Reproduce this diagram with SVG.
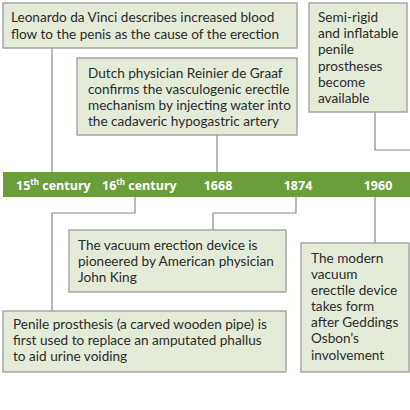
<svg xmlns="http://www.w3.org/2000/svg" width="410" height="410" viewBox="0 0 410 410">
<style>
.box{fill:#e4ecd9;stroke:#9a9a9a;stroke-width:1.3}
.t{font-family:Lato,"Open Sans",sans-serif;font-size:13.6px;fill:#2b2b2b}
.yr{font-family:"Open Sans","DejaVu Sans",sans-serif;font-size:12.5px;font-weight:bold;fill:#ffffff}
.sup{font-size:8px}
.c{fill:none;stroke:#8a8a8a;stroke-width:1.2}
</style>
<rect width="410" height="410" fill="#ffffff"/>
<g id="connectors">
<path class="c" d="M52,48V172"/>
<path class="c" d="M217,135V172"/>
<path class="c" d="M375,112V150H410"/>
<path class="c" d="M135,197V213H52V311"/>
<path class="c" d="M296,197V213H213V230"/>
<path class="c" d="M375,197V243"/>
</g>
<g id="timeline">
<rect x="3" y="172" width="407" height="25" fill="#6a9e3b"/>
<text class="yr" x="16" y="190">15<tspan class="sup" dy="-5">th</tspan><tspan dy="5"> century</tspan></text>
<text class="yr" x="102" y="190">16<tspan class="sup" dy="-5">th</tspan><tspan dy="5"> century</tspan></text>
<text class="yr" x="218" y="190" text-anchor="middle">1668</text>
<text class="yr" x="298" y="190" text-anchor="middle">1874</text>
<text class="yr" x="378" y="190" text-anchor="middle">1960</text>
</g>
<g id="leonardo">
<rect class="box" x="3" y="3" width="294" height="45"/>
<text class="t" x="11" y="22">Leonardo da Vinci describes increased blood</text>
<text class="t" x="11" y="39">flow to the penis as the cause of the erection</text>
</g>
<g id="degraaf">
<rect class="box" x="77" y="58" width="220" height="77"/>
<text class="t" x="88" y="78">Dutch physician Reinier de Graaf</text>
<text class="t" x="88" y="94">confirms the vasculogenic erectile</text>
<text class="t" x="88" y="110">mechanism by injecting water into</text>
<text class="t" x="88" y="126">the cadaveric hypogastric artery</text>
</g>
<g id="semirigid">
<rect class="box" x="309" y="3" width="98" height="109"/>
<text class="t" x="318" y="22">Semi-rigid</text>
<text class="t" x="318" y="38">and inflatable</text>
<text class="t" x="318" y="54">penile</text>
<text class="t" x="318" y="71">prostheses</text>
<text class="t" x="318" y="87">become</text>
<text class="t" x="318" y="103">available</text>
</g>
<g id="vacuum">
<rect class="box" x="69" y="230" width="217" height="62"/>
<text class="t" x="78" y="250">The vacuum erection device is</text>
<text class="t" x="78" y="266">pioneered by American physician</text>
<text class="t" x="78" y="282">John King</text>
</g>
<g id="penile">
<rect class="box" x="3" y="311" width="283" height="61"/>
<text class="t" x="13" y="329">Penile prosthesis (a carved wooden pipe) is</text>
<text class="t" x="13" y="345">first used to replace an amputated phallus</text>
<text class="t" x="13" y="361">to aid urine voiding</text>
</g>
<g id="modern">
<rect class="box" x="301" y="243" width="108" height="129"/>
<text class="t" x="311" y="263">The modern</text>
<text class="t" x="311" y="279">vacuum</text>
<text class="t" x="311" y="295">erectile device</text>
<text class="t" x="311" y="311">takes form</text>
<text class="t" x="311" y="327">after Geddings</text>
<text class="t" x="311" y="343">Osbon’s</text>
<text class="t" x="311" y="360">involvement</text>
</g>
</svg>
